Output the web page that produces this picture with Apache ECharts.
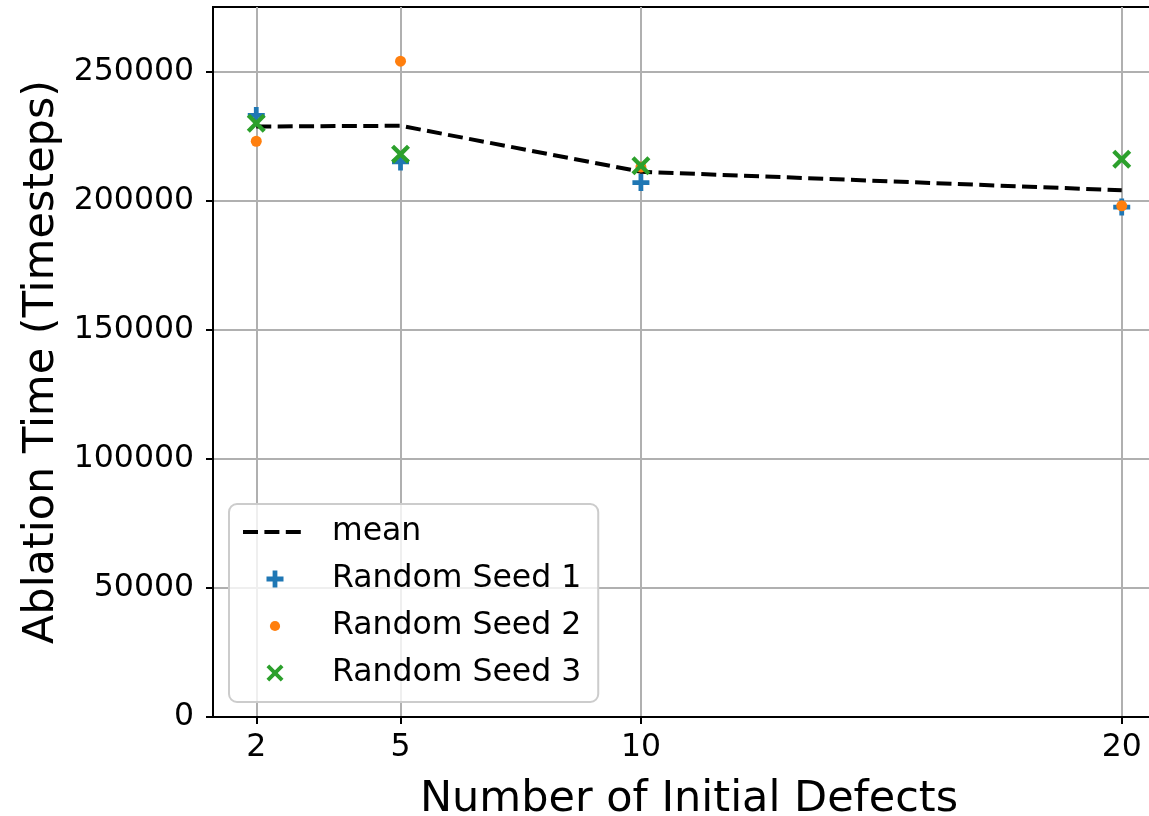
<!DOCTYPE html>
<html>
<head>
<meta charset="utf-8">
<script src="https://cdn.jsdelivr.net/npm/echarts@6/dist/echarts.min.js"></script>
<style>
html,body{margin:0;padding:0;background:#fff;}
#c{width:1149px;height:816px;}
</style>
</head>
<body>
<div id="c"></div>
<script>
// ---- data ----
const defects = [2, 5, 10, 20];
const meanValues = [228700, 229000, 211200, 204000];
const seed1 = [233000, 215000, 207000, 197500];
const seed2 = [223000, 254000, 213000, 198000];
const seed3 = [230000, 218000, 213500, 216000];
const xTicks = [2, 5, 10, 20];
const yTicks = [0, 50000, 100000, 150000, 200000, 250000];
const seriesNames = ['mean', 'Random Seed 1', 'Random Seed 2', 'Random Seed 3'];

const pair = (xs, ys) => xs.map((x, i) => [x, ys[i]]);

const FONT = 'DejaVu Sans';
const plusPath = 'path://M3.6,0 L6.4,0 L6.4,3.6 L10,3.6 L10,6.4 L6.4,6.4 L6.4,10 L3.6,10 L3.6,6.4 L0,6.4 L0,3.6 L3.6,3.6 Z';
const xPath = 'path://M0,1.6 L1.6,0 L5,3.4 L8.4,0 L10,1.6 L6.6,5 L10,8.4 L8.4,10 L5,6.6 L1.6,10 L0,8.4 L3.4,5 Z';
const dotLegend = 'path://M0,0 M20,20 M4,10 A6,6 0 1 1 16,10 A6,6 0 1 1 4,10 Z';
const meanDash = [15, 6.4];

const chart = echarts.init(document.getElementById('c'), null, {renderer: 'canvas'});
chart.setOption({
  backgroundColor: '#ffffff',
  animation: false,
  textStyle: {fontFamily: FONT},
  grid: {left: 213, top: 7, width: 952, height: 710, outerBoundsMode: 'none', containLabel: false,
         show: true, borderColor: '#000', borderWidth: 2, backgroundColor: 'transparent'},
  xAxis: {
    type: 'value', min: 1.1, max: 20.9,
    name: 'Number of Initial Defects', nameLocation: 'middle', nameGap: 61,
    nameTextStyle: {fontSize: 43, color: '#000', fontFamily: FONT},
    axisLine: {show: true, onZero: false, lineStyle: {color: '#000', width: 2}},
    axisTick: {show: true, length: 7, lineStyle: {color: '#000', width: 2}, customValues: xTicks},
    axisLabel: {fontSize: 31.5, color: '#000', margin: 15, fontFamily: FONT, customValues: xTicks},
    splitLine: {show: true, lineStyle: {color: '#b0b0b0', width: 2}}
  },
  yAxis: {
    type: 'value', min: 0, max: 275000,
    name: 'Ablation Time (Timesteps)', nameLocation: 'middle', nameGap: 150,
    nameTextStyle: {fontSize: 43, color: '#000', fontFamily: FONT},
    axisLine: {show: true, lineStyle: {color: '#000', width: 2}},
    axisTick: {show: true, length: 7, lineStyle: {color: '#000', width: 2}, customValues: yTicks},
    axisLabel: {fontSize: 31.5, color: '#000', margin: 19, fontFamily: FONT, customValues: yTicks,
                formatter: v => String(v)},
    splitLine: {show: true, lineStyle: {color: '#b0b0b0', width: 2}}
  },
  legend: {
    orient: 'vertical', left: 229, top: 504,
    padding: [10, 17, 11, 12],
    itemWidth: 64, itemHeight: 17, itemGap: 11,
    backgroundColor: 'rgba(255,255,255,0.8)',
    borderColor: '#cccccc', borderWidth: 2, borderRadius: 8,
    textStyle: {fontSize: 31.5, color: '#000', fontFamily: FONT, lineHeight: 36, padding: [0, 0, 0, 20]},
    data: [
      {name: seriesNames[0], itemStyle: {opacity: 0},
       lineStyle: {color: '#000', width: 4, type: meanDash, opacity: 1}},
      {name: seriesNames[1], icon: plusPath},
      {name: seriesNames[2], icon: dotLegend},
      {name: seriesNames[3], icon: xPath}
    ]
  },
  series: [
    {
      name: seriesNames[0], type: 'line', data: pair(defects, meanValues),
      showSymbol: false, symbol: 'none', z: 2,
      lineStyle: {color: '#000', width: 4, type: meanDash},
      itemStyle: {color: '#000'}
    },
    {
      name: seriesNames[1], type: 'scatter', data: pair(defects, seed1),
      symbol: plusPath, symbolSize: 17, z: 3,
      itemStyle: {color: '#1f77b4', opacity: 1}
    },
    {
      name: seriesNames[2], type: 'scatter', data: pair(defects, seed2),
      symbol: 'circle', symbolSize: 11, z: 4,
      itemStyle: {color: '#ff7f0e', opacity: 1}
    },
    {
      name: seriesNames[3], type: 'scatter', data: pair(defects, seed3),
      symbol: xPath, symbolSize: 19, z: 5,
      itemStyle: {color: '#2ca02c', opacity: 1}
    }
  ]
});
</script>
</body>
</html>
